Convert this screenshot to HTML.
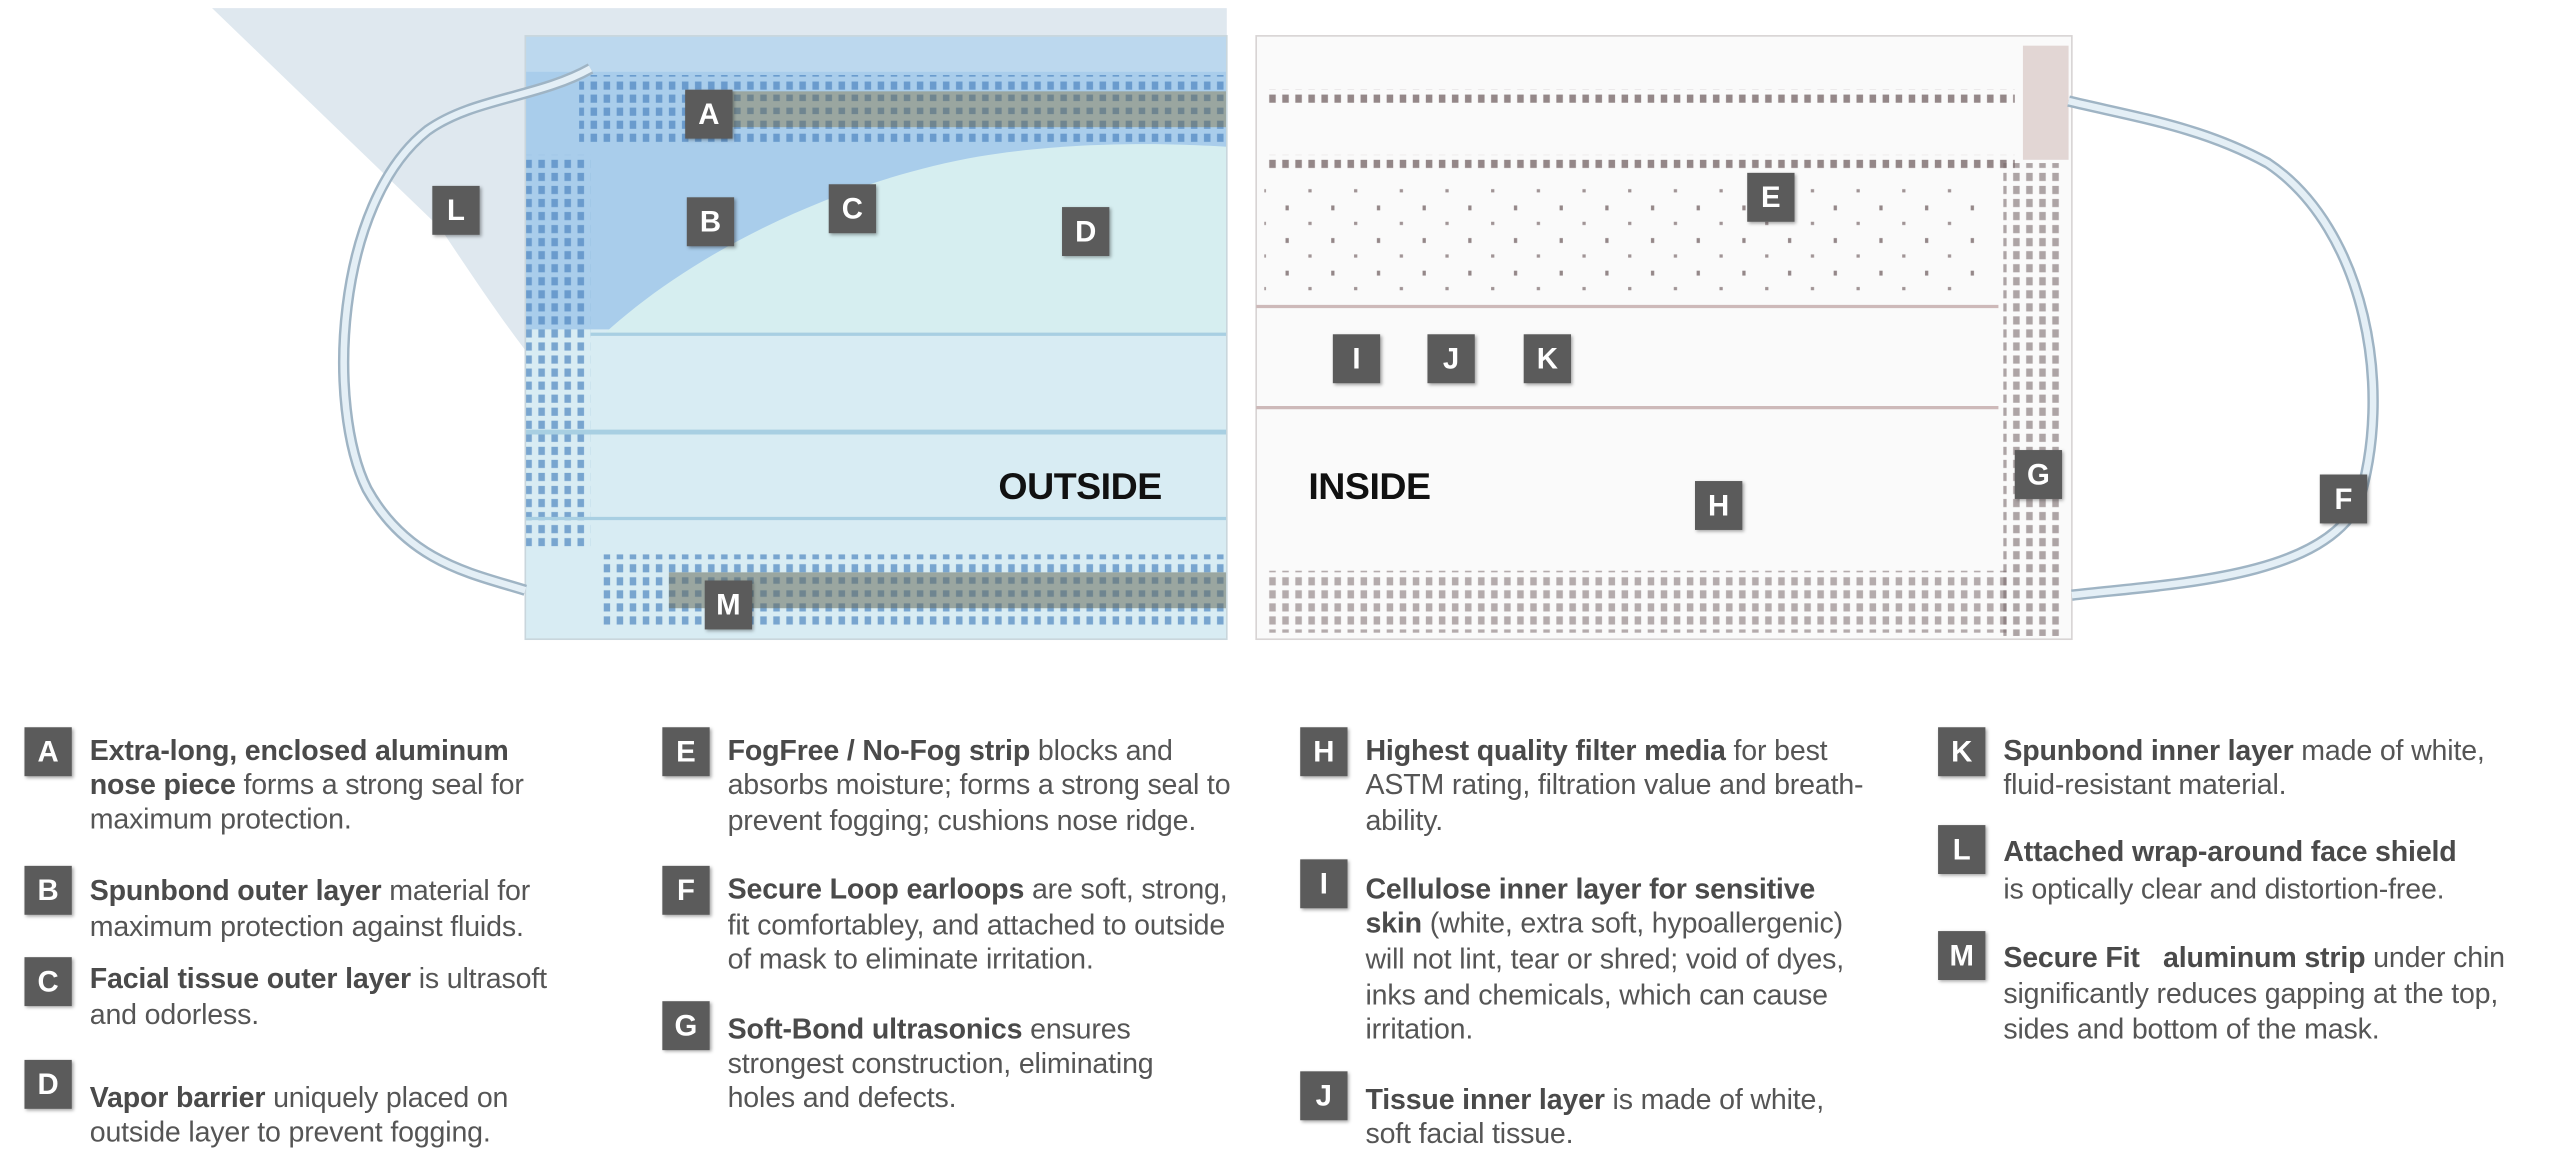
<!DOCTYPE html>
<html><head><meta charset="utf-8"><style>
html,body{margin:0;padding:0;background:#fff;overflow:hidden}
#w{position:absolute;left:0;top:0;width:1568px;height:712px;transform:scale(1.63138,1.63062);transform-origin:0 0;font-family:"Liberation Sans",sans-serif}
.b{position:absolute;width:29px;height:30px;background:#5b5b5b;color:#fff;font-weight:bold;font-size:18px;line-height:30px;text-align:center;box-shadow:1px 1px 2px rgba(0,0,0,.35)}
.t{position:absolute;white-space:nowrap;font-size:17.5px;letter-spacing:-0.1px;color:#555;line-height:22px}
.t b{color:#4a4a4a}
.lb{position:absolute;font-weight:bold;font-size:23px;color:#111;letter-spacing:-0.3px}
</style></head><body><div id="w">
<svg width="1568" height="400" style="position:absolute;left:0;top:0">
<defs>
<pattern id="bd" width="8" height="8" patternUnits="userSpaceOnUse"><rect x="2" y="2" width="4" height="5" fill="#4f86c0"/></pattern>
<pattern id="rd" width="8" height="8" patternUnits="userSpaceOnUse"><rect x="2" y="2" width="4" height="5" fill="#7a6a6c"/></pattern>
<pattern id="rs" width="28" height="20" patternUnits="userSpaceOnUse"><rect x="4" y="6" width="2" height="3" fill="#7a6a6c"/><rect x="18" y="16" width="2" height="2" fill="#8a7a7c"/></pattern>
<pattern id="gd" width="8" height="8" patternUnits="userSpaceOnUse"><rect width="8" height="8" fill="#9aa6a0"/><rect x="2" y="2" width="4" height="4" fill="#6f8590"/></pattern>
</defs>
<path d="M130,5 L752,5 L752,225 L330,225 C310,200 290,170 270,140 Z" fill="#dfe8ef"/>
<rect x="322" y="22" width="430" height="370" fill="#d8ecf3"/>
<rect x="322" y="22" width="430" height="180" fill="#a9cdeb"/>
<path d="M370,205 C430,150 520,110 600,96 C660,86 720,88 752,90 L752,205 Z" fill="#d6eef0"/>
<rect x="322" y="22" width="430" height="22" fill="#bcd8ee"/>
<rect x="355" y="46" width="397" height="42" fill="url(#bd)" opacity=".7"/>
<rect x="420" y="56" width="332" height="22" fill="url(#gd)"/>
<rect x="322" y="95" width="40" height="240" fill="url(#bd)" opacity=".7"/>
<line x1="362" y1="205" x2="752" y2="205" stroke="#a8cfe2" stroke-width="2"/>
<line x1="322" y1="265" x2="752" y2="265" stroke="#a8cfe2" stroke-width="3"/>
<line x1="322" y1="318" x2="752" y2="318" stroke="#a8cfe2" stroke-width="2"/>
<rect x="370" y="340" width="382" height="45" fill="url(#bd)" opacity=".7"/>
<rect x="410" y="351" width="342" height="22" fill="url(#gd)"/>
<rect x="322" y="22" width="430" height="370" fill="none" stroke="#c9d6dc"/>
<path d="M362,42 C330,60 290,60 262,80 C205,125 200,250 225,300 C250,345 290,352 322,362" fill="none" stroke="#9fb4c4" stroke-width="7"/>
<path d="M362,42 C330,60 290,60 262,80 C205,125 200,250 225,300 C250,345 290,352 322,362" fill="none" stroke="#e4eff6" stroke-width="4"/>
<rect x="770" y="22" width="500" height="370" fill="#fafafa" stroke="#d8d4d4"/>
<rect x="775" y="55" width="460" height="10" fill="url(#rd)" opacity=".8"/>
<rect x="775" y="95" width="460" height="10" fill="url(#rd)" opacity=".8"/>
<rect x="775" y="110" width="440" height="70" fill="url(#rs)" opacity=".8"/>
<line x1="770" y1="188" x2="1225" y2="188" stroke="#cdb9b9" stroke-width="2"/>
<line x1="770" y1="250" x2="1225" y2="250" stroke="#cdb9b9" stroke-width="2"/>
<rect x="775" y="350" width="455" height="38" fill="url(#rd)" opacity=".55"/>
<rect x="1228" y="100" width="36" height="290" fill="url(#rd)" opacity=".6"/>
<rect x="1240" y="28" width="28" height="70" fill="#e2d6d4"/>
<path d="M1268,62 C1310,72 1350,78 1390,100 C1450,140 1468,240 1445,310 C1420,355 1330,358 1270,365" fill="none" stroke="#9fb4c4" stroke-width="7"/>
<path d="M1268,62 C1310,72 1350,78 1390,100 C1450,140 1468,240 1445,310 C1420,355 1330,358 1270,365" fill="none" stroke="#e4eff6" stroke-width="4"/>
</svg>
<div class="lb" style="left:612px;top:285px">OUTSIDE</div>
<div class="lb" style="left:802px;top:285px">INSIDE</div>
<div class="b" style="left:420px;top:55px">A</div>
<div class="b" style="left:421px;top:121px">B</div>
<div class="b" style="left:508px;top:113px">C</div>
<div class="b" style="left:651px;top:127px">D</div>
<div class="b" style="left:265px;top:114px">L</div>
<div class="b" style="left:432px;top:356px">M</div>
<div class="b" style="left:1071px;top:106px">E</div>
<div class="b" style="left:817px;top:205px">I</div>
<div class="b" style="left:875px;top:205px">J</div>
<div class="b" style="left:934px;top:205px">K</div>
<div class="b" style="left:1235px;top:276px">G</div>
<div class="b" style="left:1422px;top:291px">F</div>
<div class="b" style="left:1039px;top:295px">H</div>

<div class="b" style="left:15px;top:446px">A</div>
<div class="t" style="left:55px;top:449px"><b>Extra-long, enclosed aluminum</b></div>
<div class="t" style="left:55px;top:470px"><b>nose piece</b> forms a strong seal for</div>
<div class="t" style="left:55px;top:491px">maximum protection.</div>
<div class="b" style="left:15px;top:531px">B</div>
<div class="t" style="left:55px;top:535px"><b>Spunbond outer layer</b> material for</div>
<div class="t" style="left:55px;top:557px">maximum protection against fluids.</div>
<div class="b" style="left:15px;top:587px">C</div>
<div class="t" style="left:55px;top:589px"><b>Facial tissue outer layer</b> is ultrasoft</div>
<div class="t" style="left:55px;top:611px">and odorless.</div>
<div class="b" style="left:15px;top:650px">D</div>
<div class="t" style="left:55px;top:662px"><b>Vapor barrier</b> uniquely placed on</div>
<div class="t" style="left:55px;top:683px">outside layer to prevent fogging.</div>

<div class="b" style="left:406px;top:446px">E</div>
<div class="t" style="left:446px;top:449px"><b>FogFree / No-Fog strip</b> blocks and</div>
<div class="t" style="left:446px;top:470px">absorbs moisture; forms a strong seal to</div>
<div class="t" style="left:446px;top:492px">prevent fogging; cushions nose ridge.</div>
<div class="b" style="left:406px;top:531px">F</div>
<div class="t" style="left:446px;top:534px"><b>Secure Loop earloops</b> are soft, strong,</div>
<div class="t" style="left:446px;top:556px">fit comfortabley, and attached to outside</div>
<div class="t" style="left:446px;top:577px">of mask to eliminate irritation.</div>
<div class="b" style="left:406px;top:614px">G</div>
<div class="t" style="left:446px;top:620px"><b>Soft-Bond ultrasonics</b> ensures</div>
<div class="t" style="left:446px;top:641px">strongest construction, eliminating</div>
<div class="t" style="left:446px;top:662px">holes and defects.</div>

<div class="b" style="left:797px;top:446px">H</div>
<div class="t" style="left:837px;top:449px"><b>Highest quality filter media</b> for best</div>
<div class="t" style="left:837px;top:470px">ASTM rating, filtration value and breath-</div>
<div class="t" style="left:837px;top:492px">ability.</div>
<div class="b" style="left:797px;top:527px">I</div>
<div class="t" style="left:837px;top:534px"><b>Cellulose inner layer for sensitive</b></div>
<div class="t" style="left:837px;top:555px"><b>skin</b> (white, extra soft, hypoallergenic)</div>
<div class="t" style="left:837px;top:577px">will not lint, tear or shred; void of dyes,</div>
<div class="t" style="left:837px;top:599px">inks and chemicals, which can cause</div>
<div class="t" style="left:837px;top:620px">irritation.</div>
<div class="b" style="left:797px;top:657px">J</div>
<div class="t" style="left:837px;top:663px"><b>Tissue inner layer</b> is made of white,</div>
<div class="t" style="left:837px;top:684px">soft facial tissue.</div>

<div class="b" style="left:1188px;top:446px">K</div>
<div class="t" style="left:1228px;top:449px"><b>Spunbond inner layer</b> made of white,</div>
<div class="t" style="left:1228px;top:470px">fluid-resistant material.</div>
<div class="b" style="left:1188px;top:506px">L</div>
<div class="t" style="left:1228px;top:511px"><b>Attached wrap-around face shield</b></div>
<div class="t" style="left:1228px;top:534px">is optically clear and distortion-free.</div>
<div class="b" style="left:1188px;top:571px">M</div>
<div class="t" style="left:1228px;top:576px"><b>Secure Fit&nbsp;&nbsp; aluminum strip</b> under chin</div>
<div class="t" style="left:1228px;top:598px">significantly reduces gapping at the top,</div>
<div class="t" style="left:1228px;top:620px">sides and bottom of the mask.</div>
</div></body></html>
